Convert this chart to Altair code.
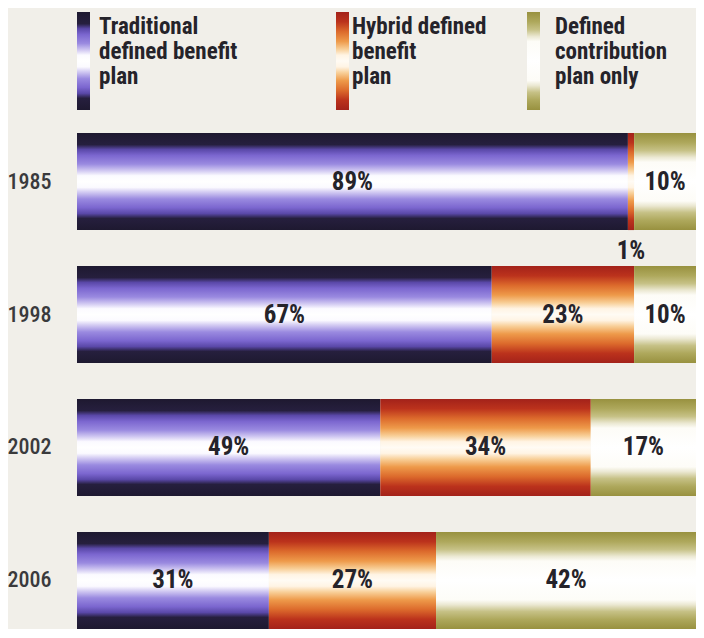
import altair as alt
import pandas as pd

years = ["1985", "1998", "2002", "2006"]
categories = [
    "Traditional defined benefit plan",
    "Hybrid defined benefit plan",
    "Defined contribution plan only",
]
legend_lines = [
    ["Traditional", "defined benefit", "plan"],
    ["Hybrid defined", "benefit", "plan"],
    ["Defined", "contribution", "plan only"],
]
traditional = [89, 67, 49, 31]
hybrid = [1, 23, 34, 27]
defined_contribution = [10, 10, 17, 42]

series = [traditional, hybrid, defined_contribution]
rows = []
for i, yr in enumerate(years):
    for j, cat in enumerate(categories):
        rows.append({"year": yr, "category": cat, "order": j, "value": series[j][i]})
df = pd.DataFrame(rows)

FONT = "Roboto Condensed, Liberation Sans Narrow, DejaVu Sans Condensed, sans-serif"
TEXT_COLOR = "#25232a"


def grad(stops):
    return alt.Gradient(
        gradient="linear",
        x1=0, x2=0, y1=0, y2=1,
        stops=[alt.GradientStop(color=c, offset=o) for o, c in stops],
    )


def mirrored(half):
    full = list(half)
    for o, c in reversed(half):
        if o < 0.5:
            full.append((round(1 - o, 3), c))
    return full


purple = grad(mirrored([
    (0.0, "#1e1930"), (0.12, "#261f3e"), (0.17, "#5a48a8"), (0.23, "#7b66cf"),
    (0.32, "#9a8ae0"), (0.39, "#d2caf2"), (0.44, "#fbfaff"), (0.5, "#ffffff"),
]))
red = grad(mirrored([
    (0.0, "#a3221a"), (0.1, "#bb321c"), (0.2, "#dc6a2c"), (0.3, "#ee9a4a"),
    (0.38, "#f8cf98"), (0.44, "#fff4e4"), (0.5, "#fffbf4"),
]))
olive = grad(mirrored([
    (0.0, "#98913f"), (0.1, "#aea85c"), (0.18, "#c6c186"), (0.25, "#ebe8d2"),
    (0.3, "#fdfcf7"), (0.5, "#ffffff"),
]))
gradients = [purple, red, olive]

base = alt.Chart(df).transform_stack(
    stack="value", groupby=["year"], as_=["x0", "x1"], sort=[alt.SortField("order")]
).transform_calculate(
    mid="(datum.x0 + datum.x1) / 2",
    label="datum.value + '%'",
)

y_enc = alt.Y(
    "year:N",
    sort=years,
    scale=alt.Scale(paddingInner=0.27, paddingOuter=0),
    axis=alt.Axis(
        title=None, domain=False, ticks=False, grid=False,
        labelPadding=26, labelFont=FONT, labelFontSize=22,
        labelColor="#3a3a3c", labelFontWeight=500,
    ),
)
x_scale = alt.Scale(domain=[0, 100], nice=False, zero=True)

layers = []
for j in range(3):
    layers.append(
        base.transform_filter(alt.datum.order == j)
        .mark_bar(color=gradients[j])
        .encode(
            x=alt.X("x0:Q", scale=x_scale, axis=None),
            x2="x1:Q",
            y=y_enc,
        )
    )

layers.append(
    base.transform_filter("datum.value >= 5")
    .mark_text(font=FONT, fontSize=25, fontWeight="bold", color=TEXT_COLOR)
    .encode(x=alt.X("mid:Q", scale=x_scale, axis=None), y=y_enc, text="label:N")
)
layers.append(
    base.transform_filter("datum.value < 5")
    .mark_text(font=FONT, fontSize=25, fontWeight="bold", color=TEXT_COLOR, dy=69)
    .encode(x=alt.X("mid:Q", scale=x_scale, axis=None), y=y_enc, text="label:N")
)

# custom legend in the top padding
swatch_x = [0, 259, 450]
text_x = [22, 275, 478]
one = pd.DataFrame({"k": [0]})
for j in range(3):
    layers.append(
        alt.Chart(one).mark_rect(color=gradients[j]).encode(
            x=alt.value(swatch_x[j]), x2=alt.value(swatch_x[j] + 13),
            y=alt.value(-121), y2=alt.value(-23),
        )
    )
    layers.append(
        alt.Chart(one).mark_text(
            font=FONT, fontSize=23, fontWeight="bold", color=TEXT_COLOR,
            align="left", baseline="top", lineHeight=25,
        ).encode(
            x=alt.value(text_x[j]), y=alt.value(-117), text=alt.value(legend_lines[j]),
        )
    )

chart = alt.layer(*layers).properties(
    width=619,
    height=496,
    autosize=alt.AutoSizeParams(type="none"),
    padding={"left": 69, "top": 125, "right": 0, "bottom": 0},
).configure(background="#f1efe9").configure_view(stroke=None)

chart.save("out.html", embed_options={"renderer": "svg", "actions": False})
